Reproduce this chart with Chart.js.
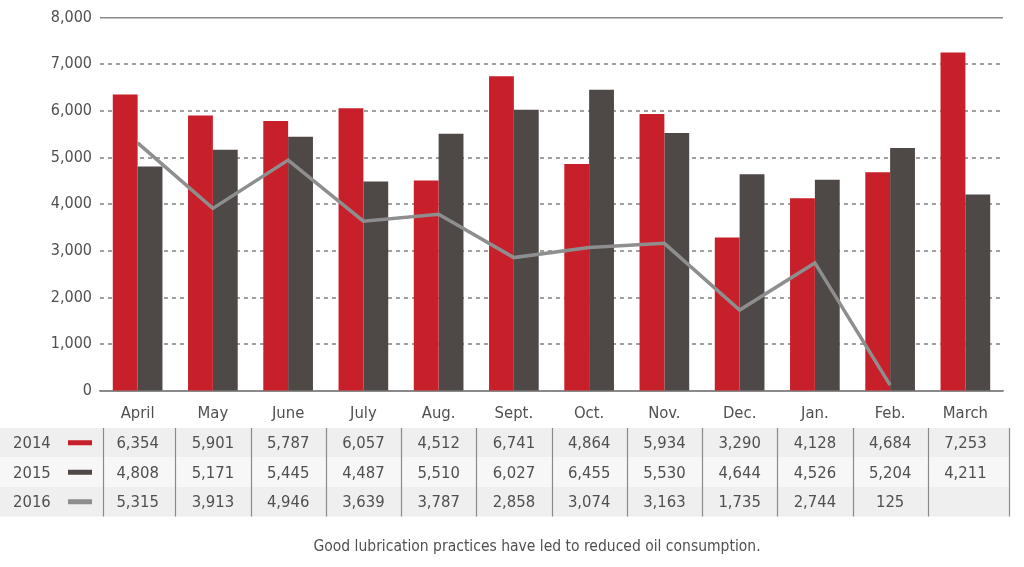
<!DOCTYPE html>
<html>
<head>
<meta charset="utf-8">
<script src="https://cdn.jsdelivr.net/npm/chart.js@4/dist/chart.umd.min.js"></script>
<style>
  html, body { margin: 0; padding: 0; background: #fff; }
  #wrap { width: 1024px; height: 567px; position: relative; }
</style>
</head>
<body>
<div id="wrap"><canvas id="oilChart" width="1024" height="567"></canvas></div>
<script>
const months = ['April', 'May', 'June', 'July', 'Aug.', 'Sept.', 'Oct.', 'Nov.', 'Dec.', 'Jan.', 'Feb.', 'March'];
const values2014 = [6354, 5901, 5787, 6057, 4512, 6741, 4864, 5934, 3290, 4128, 4684, 7253];
const values2015 = [4808, 5171, 5445, 4487, 5510, 6027, 6455, 5530, 4644, 4526, 5204, 4211];
const values2016 = [5315, 3913, 4946, 3639, 3787, 2858, 3074, 3163, 1735, 2744, 125, null];
const yTicks = [0, 1000, 2000, 3000, 4000, 5000, 6000, 7000, 8000];
const caption = 'Good lubrication practices have led to reduced oil consumption.';

const FONT = '"Liberation Sans Narrow", "DejaVu Sans Condensed", "Roboto", sans-serif';
const RED = '#c8202a';
const DARK = '#4e4846';
const GREY = '#8e8e8e';
const TEXT = '#505050';

const fmt = v => v == null ? '' : v.toLocaleString('en-US');

// data table drawn under the x axis, columns taken from the category scale
const tablePlugin = {
  id: 'dataTable',
  afterDraw(chart) {
    const ctx = chart.ctx;
    const x = chart.scales.x;
    const rows = [
      { label: '2014', color: RED, data: values2014, bg: '#efefef' },
      { label: '2015', color: DARK, data: values2015, bg: '#f7f7f7' },
      { label: '2016', color: GREY, data: values2016, bg: '#efefef' }
    ];
    const top = 428, rowH = 29.5;
    const half = (x.getPixelForValue(1) - x.getPixelForValue(0)) / 2;
    const right = x.getPixelForValue(months.length - 1) + half + 6;
    ctx.save();
    rows.forEach((r, i) => {
      const y = top + i * rowH;
      ctx.fillStyle = r.bg;
      ctx.fillRect(0, y, right, rowH);
      ctx.fillStyle = TEXT;
      ctx.font = '16.5px ' + FONT;
      ctx.textAlign = 'left';
      ctx.textBaseline = 'middle';
      ctx.fillText(r.label, 13, y + rowH / 2 + 1);
      ctx.fillStyle = r.color;
      ctx.fillRect(68, y + rowH / 2 - 2.5, 24, 5);
      ctx.fillStyle = TEXT;
      ctx.textAlign = 'center';
      r.data.forEach((v, j) => {
        ctx.fillText(fmt(v), x.getPixelForValue(j), y + rowH / 2 + 1);
      });
    });
    ctx.strokeStyle = '#8a8a8a';
    ctx.lineWidth = 1.2;
    for (let j = 0; j <= months.length; j++) {
      const px = Math.round(x.getPixelForValue(j) - half) + 0.5 + (j === months.length ? 6 : 0) + (j === 0 ? 3 : 0);
      ctx.beginPath();
      ctx.moveTo(px, top);
      ctx.lineTo(px, top + rowH * 3);
      ctx.stroke();
    }
    ctx.fillStyle = TEXT;
    ctx.font = '15.5px ' + FONT;
    ctx.textAlign = 'center';
    ctx.fillText(caption, 537, 547);
    ctx.restore();
  }
};

const solidLine = v => v === 8000 || v === 0;

new Chart(document.getElementById('oilChart'), {
  type: 'bar',
  data: {
    labels: months,
    datasets: [
      {
        label: '2014',
        data: values2014,
        backgroundColor: RED,
        categoryPercentage: 0.66,
        barPercentage: 1.0,
        order: 2
      },
      {
        label: '2015',
        data: values2015,
        backgroundColor: DARK,
        categoryPercentage: 0.66,
        barPercentage: 1.0,
        order: 2
      },
      {
        type: 'line',
        label: '2016',
        data: values2016,
        borderColor: GREY,
        borderWidth: 3.5,
        pointRadius: 0,
        tension: 0,
        spanGaps: false,
        order: 1
      }
    ]
  },
  options: {
    responsive: false,
    animation: false,
    devicePixelRatio: 1,
    layout: { padding: { top: 13, right: 21, bottom: 140, left: 0 } },
    plugins: {
      legend: { display: false },
      tooltip: { enabled: false }
    },
    scales: {
      x: {
        grid: { display: false, drawTicks: false },
        border: { display: true, color: '#8a8a8a', width: 1.5 },
        ticks: { color: TEXT, font: { family: FONT, size: 16.5 }, padding: 13 },
        afterFit(scale) { scale.height = 36; }
      },
      y: {
        min: 0,
        max: 8000,
        afterBuildTicks(scale) { scale.ticks = yTicks.map(v => ({ value: v })); },
        afterFit(scale) { scale.width = 100; },
        border: {
          display: false,
          dash: ctx => ctx.tick && solidLine(ctx.tick.value) ? [] : [4, 4]
        },
        grid: {
          color: ctx => ctx.tick && solidLine(ctx.tick.value) ? '#8a8a8a' : '#a0a0a0',
          lineWidth: ctx => ctx.tick && ctx.tick.value === 0 ? 1 : (ctx.tick && ctx.tick.value === 8000 ? 1.5 : 2),
          drawTicks: false
        },
        ticks: {
          color: TEXT,
          font: { family: FONT, size: 16 },
          padding: 8,
          callback: v => fmt(v)
        }
      }
    }
  },
  plugins: [tablePlugin]
});
</script>
</body>
</html>
